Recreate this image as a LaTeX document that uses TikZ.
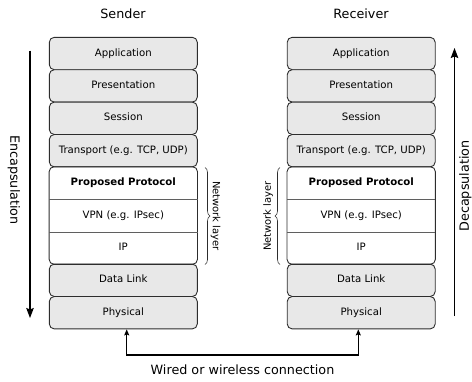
\documentclass[tikz,border=0pt]{standalone}
\usepackage{fontspec}
\setmainfont{DejaVu Sans}
\usetikzlibrary{arrows.meta,fit,decorations.pathreplacing}
\definecolor{layerfill}{RGB}{232,232,232}
\definecolor{edge}{RGB}{45,45,45}
\definecolor{divider}{RGB}{95,95,95}
\begin{document}
\begin{tikzpicture}[x=1bp,y=-1bp,
  boxtext/.style={font=\fontsize{10.2}{12}\selectfont, text height=7.6bp, text depth=2.4bp},
  layer/.style={boxtext, draw=edge, line width=0.9bp, rounded corners=5bp, fill=layerfill,
    minimum width=148bp, minimum height=32.4bp, inner sep=0pt},
  netrow/.style={boxtext, minimum width=148bp, minimum height=32.4bp, inner sep=0pt},
  netgroup/.style={draw=edge, line width=0.9bp, rounded corners=5bp, inner sep=0pt},
  rowline/.style={draw=divider, line width=0.7bp},
  title/.style={font=\fontsize{12.8}{15}\selectfont, anchor=base, inner sep=0pt},
  sidelabel/.style={font=\fontsize{12.8}{15}\selectfont, inner sep=0pt},
  netlabel/.style={font=\fontsize{10}{12}\selectfont, inner sep=0pt},
  flow/.style={line width=1.2bp, -{Stealth[length=10bp,width=7.5bp,inset=1.5bp]}},
  link/.style={line width=1.3bp, {Stealth[length=6bp,width=5bp,inset=1bp]}-{Stealth[length=6bp,width=5bp,inset=1bp]}},
  bracket/.style={decorate, decoration={brace, amplitude=5bp}, line width=0.6bp, draw=edge}
]
\useasboundingbox (0,0) rectangle (472,381);

% column titles
\node[title] (sender) at (123,18.5) {Sender};
\node[title] (receiver) at (361,18.5) {Receiver};

% sender stack
\node[layer] (sapp)  at (123.3,53.5)  {Application};
\node[layer] (spres) at (123.3,85.9)  {Presentation};
\node[layer] (ssess) at (123.3,118.3) {Session};
\node[layer] (strans) at (123.3,150.7) {Transport (e.g. TCP, UDP)};
\node[netrow] (sprop) at (123.3,183.1) {\textbf{Proposed Protocol}};
\node[netrow] (svpn)  at (123.3,215.5) {VPN (e.g. IPsec)};
\node[netrow] (sip)   at (123.3,247.9) {IP};
\node[layer] (slink) at (123.3,280.3) {Data Link};
\node[layer] (sphy)  at (123.3,312.7) {Physical};
\node[netgroup, fit=(sprop)(sip)] (snet) {};
\draw[rowline] (sprop.south west) -- (sprop.south east);
\draw[rowline] (svpn.south west) -- (svpn.south east);

% receiver stack
\node[layer] (rapp)  at (361.2,53.5)  {Application};
\node[layer] (rpres) at (361.2,85.9)  {Presentation};
\node[layer] (rsess) at (361.2,118.3) {Session};
\node[layer] (rtrans) at (361.2,150.7) {Transport (e.g. TCP, UDP)};
\node[netrow] (rprop) at (361.2,183.1) {\textbf{Proposed Protocol}};
\node[netrow] (rvpn)  at (361.2,215.5) {VPN (e.g. IPsec)};
\node[netrow] (rip)   at (361.2,247.9) {IP};
\node[layer] (rlink) at (361.2,280.3) {Data Link};
\node[layer] (rphy)  at (361.2,312.7) {Physical};
\node[netgroup, fit=(rprop)(rip)] (rnet) {};
\draw[rowline] (rprop.south west) -- (rprop.south east);
\draw[rowline] (rvpn.south west) -- (rvpn.south east);

% network layer braces
\draw[bracket] (205,167.5) -- (205,264.5);
\node[netlabel, rotate=-90] (snetlabel) at (215.5,216) {Network layer};
\draw[bracket] (280,264.5) -- (280,167.5);
\node[netlabel, rotate=90] (rnetlabel) at (268,216) {Network layer};

% encapsulation / decapsulation
\coordinate (encstart) at (30,50.7);
\coordinate (encend) at (30,318);
\draw[flow] (encstart) -- (encend);
\node[sidelabel, rotate=-90] (enc) at (13.8,180) {Encapsulation};
\coordinate (decstart) at (454.5,316);
\coordinate (decend) at (454.5,48);
\draw[flow] (decstart) -- (decend);
\node[sidelabel, rotate=90] (dec) at (465.3,186) {Decapsulation};

% physical connection
\coordinate (wl) at (126.7,355);
\coordinate (wr) at (358.3,355);
\draw[link] (sphy.south -| wl) -- (wl) -- (wr) -- (rphy.south -| wr);
\node[title] (wire) at (242.5,374.5) {Wired or wireless connection};
\end{tikzpicture}
\end{document}
